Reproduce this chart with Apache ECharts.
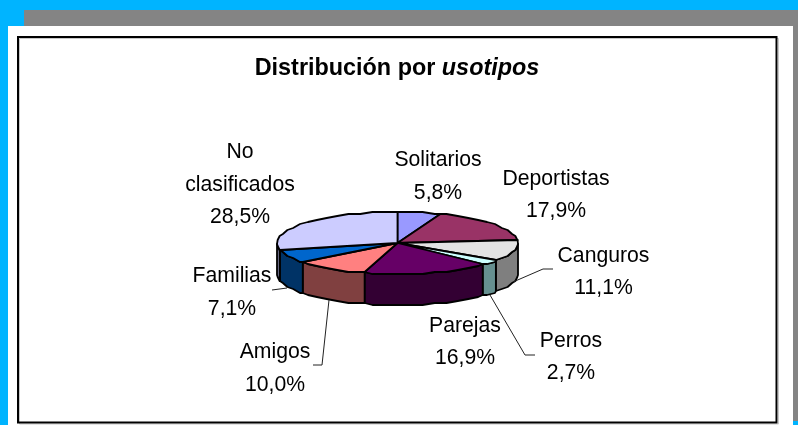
<!DOCTYPE html>
<html><head><meta charset="utf-8">
<style>html,body{margin:0;padding:0;background:#00B4FF}#c{width:798px;height:425px}</style>
<script src="https://cdn.jsdelivr.net/npm/echarts@6/dist/echarts.min.js"></script>
</head><body><div id="c"></div>
<script>
const categories = ['Solitarios','Deportistas','Canguros','Perros','Parejas','Amigos','Familias','No\nclasificados'];
const values = [5.8,17.9,11.1,2.7,16.9,10.0,7.1,28.5];
const topColors = ['#9999FF','#993366','#E3E3E3','#CCFFFF','#660066','#FF8080','#0066CC','#CCCCFF'];
const sideColors = ['#4C4C80','#4C1933','#7F7F7F','#669090','#330033','#804040','#003366','#666680'];
const labelCenters = [[438,176.5],[556,195],[603.5,272],[571,357],[465,342],[275,368.5],[232,292.5],[240,185]];
const leaders = [
  null,null,
  [[553,269],[543,269],[513,282]],
  [[535,355],[525,355],[490,295]],
  null,
  [[313,365],[322,365],[329,300]],
  [[272,290],[287,288]],
  null
];

const cx = 397.5, cy = 243, rx = 120.5, ry = 31, depth = 31, stepDeg = 6, gridY = 2;
const total = values.reduce((a,b)=>a+b,0);
const slices = [];
let acc = 0;
values.forEach(v => { const a0 = acc/total*360; acc += v; slices.push([a0, acc/total*360]); });

function pt(t, dy){
  const r=t*Math.PI/180;
  return [cx+rx*Math.sin(r), Math.round((cy-ry*Math.cos(r))/gridY)*gridY+(dy||0)];
}
function arc(a,b,dy){
  const out=[pt(a,dy)];
  for(let t=Math.ceil(a/stepDeg)*stepDeg; t<b; t+=stepDeg){ if(t>a) out.push(pt(t,dy)); }
  out.push(pt(b,dy));
  return out;
}
const outline = {stroke:'#000',lineWidth:1.8,lineJoin:'round'};

function renderSide(params){
  const i = params.dataIndex;
  const a = Math.max(slices[i][0],90), b = Math.min(slices[i][1],270);
  if(b<=a) return {type:'group',children:[]};
  const pts = arc(a,b,0).concat(arc(a,b,depth).reverse());
  return {type:'polygon',shape:{points:pts},style:Object.assign({fill:sideColors[i]},outline)};
}
function renderTop(params){
  const i = params.dataIndex;
  const pts = [[cx,cy]].concat(arc(slices[i][0],slices[i][1],0));
  return {type:'polygon',shape:{points:pts},style:Object.assign({fill:topColors[i]},outline)};
}

const labelFont = '21.2px "Liberation Sans", Arial, sans-serif';
const graphics = [
  {type:'rect',z:-10,shape:{x:24,y:10,width:774,height:411},style:{fill:'#848484'}},
  {type:'rect',z:-9,shape:{x:8,y:26,width:785,height:399},style:{fill:'#FFFFFF'}},
  {type:'rect',z:-8,shape:{x:19.5,y:38.5,width:759,height:385.5},style:{fill:'none',stroke:'#C8C8C8',lineWidth:1}},
  {type:'rect',z:-7,shape:{x:18,y:37,width:758.5,height:385.5},style:{fill:'none',stroke:'#000',lineWidth:2}}
];
categories.forEach((name,i)=>{
  const val = values[i].toFixed(1).replace('.',',')+'%';
  graphics.push({type:'text',z:5,x:labelCenters[i][0],y:labelCenters[i][1],
    style:{text:name+'\n'+val,font:labelFont,fill:'#000',align:'center',verticalAlign:'middle',lineHeight:32.5}});
  if(leaders[i]) graphics.push({type:'polyline',z:5,shape:{points:leaders[i]},style:{stroke:'#222',lineWidth:1,fill:'none'}});
});

const chart = echarts.init(document.getElementById('c'),null,{renderer:'canvas'});
chart.setOption({
  animation:false,
  backgroundColor:'#00B4FF',
  title:{
    text:'Distribución por {i|usotipos}',left:392,top:52,textAlign:'center',
    textStyle:{fontFamily:'"Liberation Sans", Arial, sans-serif',fontWeight:'bold',fontSize:23.4,color:'#000',
      rich:{i:{fontFamily:'"Liberation Sans", Arial, sans-serif',fontWeight:'bold',fontStyle:'italic',fontSize:23.4,color:'#000'}}}
  },
  graphic:graphics,
  series:[
    {type:'custom',coordinateSystem:'none',renderItem:renderSide,data:values,z:3,silent:true},
    {type:'custom',coordinateSystem:'none',renderItem:renderTop,data:values,z:4,silent:true}
  ]
});
</script></body></html>
